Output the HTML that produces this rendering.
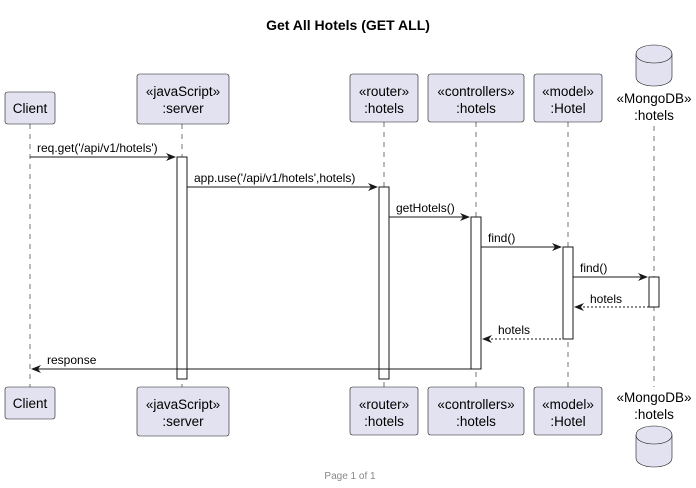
<!DOCTYPE html>
<html><head><style>body{margin:0;background:#fff}svg{display:block}text{font-family:"Liberation Sans",sans-serif}</style></head><body>
<svg width="696" height="488" viewBox="0 0 696 488" xmlns="http://www.w3.org/2000/svg">
<text x="348" y="30" text-anchor="middle" font-size="14" font-weight="bold">Get All Hotels (GET ALL)</text>
<g stroke="#181818" stroke-width="0.6" stroke-dasharray="5,5">
<line x1="30" y1="124" x2="30" y2="387"/><line x1="182" y1="124" x2="182" y2="387"/>
<line x1="384" y1="122" x2="384" y2="387"/><line x1="476" y1="122" x2="476" y2="387"/>
<line x1="568" y1="122" x2="568" y2="387"/><line x1="654" y1="126" x2="654" y2="387"/>
</g>
<g fill="#E2E2F0" stroke="#181818" stroke-width="0.6">
<rect x="5" y="92" width="50" height="32" rx="2.5"/><rect x="137" y="74" width="92" height="50" rx="2.5"/>
<rect x="350" y="74" width="68" height="48" rx="2.5"/><rect x="428" y="74" width="96" height="48" rx="2.5"/>
<rect x="534" y="74" width="68" height="48" rx="2.5"/>
<rect x="5" y="387" width="50" height="32" rx="2.5"/><rect x="137" y="387" width="92" height="49" rx="2.5"/>
<rect x="350" y="387" width="68" height="48" rx="2.5"/><rect x="428" y="387" width="96" height="48" rx="2.5"/>
<rect x="534" y="387" width="68" height="48" rx="2.5"/>
<path d="M636,54 C636,42 672,42 672,54 L672,77 C672,89 636,89 636,77 Z"/><path d="M636,54 C636,66 672,66 672,54" fill="none"/>
<path d="M636,435 C636,423 672,423 672,435 L672,458 C672,470 636,470 636,458 Z"/><path d="M636,435 C636,447 672,447 672,435" fill="none"/>
</g>
<g fill="#fff" stroke="#181818" stroke-width="1">
<rect x="177" y="157" width="10" height="222"/><rect x="379" y="187" width="10" height="192"/>
<rect x="471" y="217" width="10" height="152"/><rect x="563" y="247" width="10" height="92"/>
<rect x="649" y="277" width="10" height="30"/>
</g>
<g font-size="13.5" text-anchor="middle" fill="#000">
<text x="30" y="113">Client</text><text x="183" y="96">«javaScript»</text><text x="183" y="113">:server</text>
<text x="384" y="96">«router»</text><text x="384" y="113">:hotels</text>
<text x="476" y="96">«controllers»</text><text x="476" y="113">:hotels</text>
<text x="568" y="96">«model»</text><text x="568" y="113">:Hotel</text>
<text x="654" y="103">«MongoDB»</text><text x="654" y="120">:hotels</text>
<text x="30" y="408">Client</text><text x="183" y="409">«javaScript»</text><text x="183" y="426">:server</text>
<text x="384" y="409">«router»</text><text x="384" y="426">:hotels</text>
<text x="476" y="409">«controllers»</text><text x="476" y="426">:hotels</text>
<text x="568" y="409">«model»</text><text x="568" y="426">:Hotel</text>
<text x="654" y="402">«MongoDB»</text><text x="654" y="419">:hotels</text>
</g>
<g stroke="#181818" stroke-width="1" fill="none">
<line x1="30" y1="157" x2="175" y2="157"/><line x1="187" y1="187" x2="377" y2="187"/>
<line x1="389" y1="217" x2="469" y2="217"/><line x1="481" y1="247" x2="561" y2="247"/>
<line x1="573" y1="277" x2="647" y2="277"/>
<line x1="575" y1="307" x2="649" y2="307" stroke-dasharray="2,2"/>
<line x1="483" y1="339" x2="563" y2="339" stroke-dasharray="2,2"/>
<line x1="32" y1="369" x2="471" y2="369"/>
</g>
<g fill="#181818">
<path d="M176,157 l-10,-4 l3,4 l-3,4z"/><path d="M378,187 l-10,-4 l3,4 l-3,4z"/>
<path d="M470,217 l-10,-4 l3,4 l-3,4z"/><path d="M562,247 l-10,-4 l3,4 l-3,4z"/>
<path d="M648,277 l-10,-4 l3,4 l-3,4z"/>
<path d="M574,307 l10,-4 l-3,4 l3,4z"/><path d="M482,339 l10,-4 l-3,4 l3,4z"/>
<path d="M31,369 l10,-4 l-3,4 l3,4z"/>
</g>
<g font-size="12" fill="#000">
<text x="37" y="152">req.get('/api/v1/hotels')</text>
<text x="194" y="182">app.use('/api/v1/hotels',hotels)</text>
<text x="396" y="212">getHotels()</text><text x="488" y="242">find()</text>
<text x="580" y="272">find()</text><text x="590" y="303">hotels</text>
<text x="498" y="334">hotels</text><text x="47" y="364">response</text>
</g>
<text x="350" y="479" text-anchor="middle" font-size="10" fill="#888">Page 1 of 1</text>
</svg>
</body></html>
